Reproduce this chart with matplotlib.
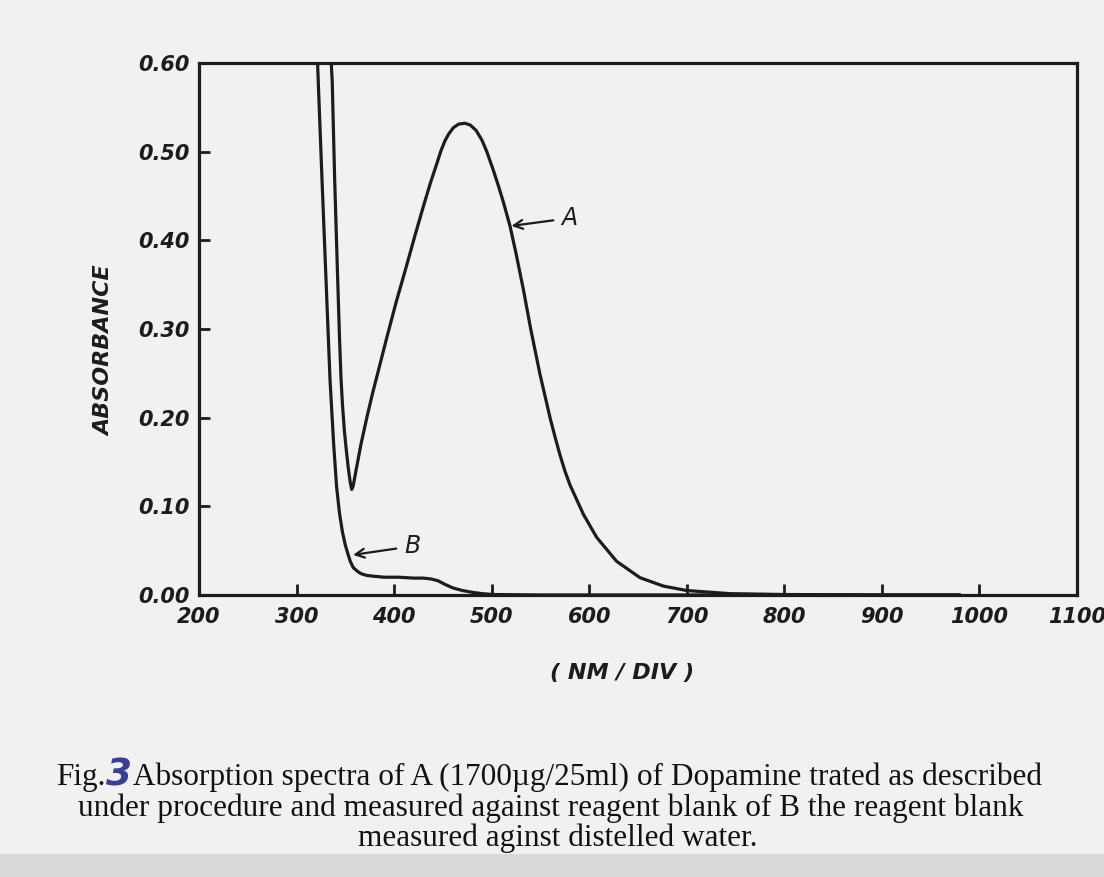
import matplotlib
matplotlib.use("Agg")
import matplotlib.pyplot as plt
from matplotlib.patches import Rectangle

# curve A : dopamine vs reagent blank
wl_a = [335.5, 336.5, 339, 342, 344, 345.5, 347, 349, 351, 353, 355, 356.5, 358,
        361.7, 366, 372, 378, 385, 392.4, 402, 412.9, 421, 429.9, 437, 443.6,
        448, 452, 456, 460.7, 466, 472.6, 478, 484, 490, 495, 501.7, 507, 512,
        518.8, 525, 532.4, 540, 549.5, 559.8, 565, 570, 575, 580.3, 594, 607.6,
        628, 652, 676, 700, 744, 800, 900, 980]
abs_a = [0.600, 0.580, 0.470, 0.360, 0.290, 0.245, 0.215, 0.185, 0.163, 0.143,
         0.127, 0.119, 0.123, 0.145, 0.170, 0.200, 0.228, 0.258, 0.290, 0.330,
         0.372, 0.404, 0.438, 0.464, 0.486, 0.501, 0.512, 0.520, 0.527, 0.531,
         0.532, 0.530, 0.524, 0.513, 0.500, 0.479, 0.461, 0.443, 0.416, 0.385,
         0.345, 0.300, 0.249, 0.200, 0.178, 0.158, 0.140, 0.124, 0.091, 0.065,
         0.038, 0.0195, 0.010, 0.005, 0.0015, 0.0005, 0.0, 0.0]

# curve B : reagent blank vs distilled water
wl_b = [321.5, 323, 326, 330, 334.3, 338, 341, 344, 347, 350, 352.7, 355,
        358, 362, 366, 372, 380, 390, 405, 420, 430, 438, 445, 452, 460, 470,
        480, 490, 501, 550, 700, 900, 980]
abs_b = [0.600, 0.556, 0.470, 0.360, 0.242, 0.170, 0.122, 0.092, 0.071, 0.056,
         0.046, 0.038, 0.031, 0.027, 0.024, 0.022, 0.021, 0.020, 0.020, 0.019,
         0.019, 0.018, 0.016, 0.012, 0.008, 0.005, 0.003, 0.0015, 0.0005, 0.0,
         0.0, 0.0, 0.0]

x_ticks = [200, 300, 400, 500, 600, 700, 800, 900, 1000, 1100]
y_ticks = [0.0, 0.1, 0.2, 0.3, 0.4, 0.5, 0.6]

caption_1 = "Absorption spectra of A (1700\u00b5g/25ml) of Dopamine trated as described"
caption_2 = "under procedure and measured against reagent blank of B the reagent blank"
caption_3 = "measured aginst distelled water."

ink = "#1c1c1c"
paper = "#f1f1f1"

fig = plt.figure(figsize=(11.04, 8.77), dpi=100, facecolor=paper)
ax = fig.add_axes([0.1803, 0.3216, 0.7952, 0.6066])
ax.set_facecolor(paper)

ax.plot(wl_a, abs_a, color=ink, lw=2.3, solid_capstyle="round", solid_joinstyle="round")
ax.plot(wl_b, abs_b, color=ink, lw=2.3, solid_capstyle="round", solid_joinstyle="round")

ax.set_xlim(200, 1100)
ax.set_ylim(0, 0.6)
ax.set_xticks(x_ticks)
ax.set_yticks(y_ticks)
ax.set_yticklabels(["%.2f" % v for v in y_ticks])

tick_font = dict(fontsize=15, fontstyle="italic", fontweight="bold", color=ink)
for lab in ax.get_xticklabels() + ax.get_yticklabels():
    lab.set(**tick_font)
ax.tick_params(direction="in", length=8, width=2, color=ink)
ax.tick_params(axis="x", pad=9)
ax.tick_params(axis="y", pad=7)
for s in ax.spines.values():
    s.set_linewidth(2.3)
    s.set_color(ink)

ax.set_xlabel("( NM / DIV )", fontsize=16, fontstyle="italic", fontweight="bold", color=ink)
ax.xaxis.set_label_coords(0.482, -0.128)
ax.set_ylabel("ABSORBANCE", fontsize=16, fontstyle="italic", fontweight="bold", color=ink)
ax.yaxis.set_label_coords(-0.096, 0.46)

# curve labels with arrows
arrow = dict(arrowstyle="->", lw=1.6, color=ink, shrinkA=4, shrinkB=1, mutation_scale=16)
ax.annotate("A", xy=(518.8, 0.416), xytext=(580, 0.425), fontsize=17,
            fontstyle="italic", color=ink, va="center", ha="center", arrowprops=arrow)
ax.annotate("B", xy=(356.5, 0.045), xytext=(419, 0.055), fontsize=17,
            fontstyle="italic", color=ink, va="center", ha="center", arrowprops=arrow)

# caption, with the hand-written blue figure number
cap_font = dict(fontsize=22.5, family="Liberation Serif", color="#111111", va="center")
fig.canvas.draw()
r = fig.canvas.get_renderer()
t_fig = fig.text(0, 0.114, "Fig.", **cap_font)
t_num = fig.text(0, 0.116, "3", fontsize=27, family="DejaVu Sans", fontweight="bold",
                 fontstyle="italic", color="#3a3f95", va="center")
t_rest = fig.text(0, 0.114, caption_1, **cap_font)
w_fig = t_fig.get_window_extent(r).width
w_num = t_num.get_window_extent(r).width
w_rest = t_rest.get_window_extent(r).width
x0 = 548 - (w_fig + w_num + w_rest) / 2
t_fig.set_x(x0 / 1104)
t_num.set_x((x0 + w_fig + 1) / 1104)
t_rest.set_x((x0 + w_fig + w_num + 2) / 1104)
fig.text(0.499, 0.0787, caption_2, ha="center", **cap_font)
fig.text(0.505, 0.0445, caption_3, ha="center", **cap_font)

# bottom edge of the scanned page
fig.patches.append(Rectangle((0, 0), 1, 0.026, transform=fig.transFigure,
                             facecolor="#d9d9d9", edgecolor="none", zorder=0))

fig.savefig("out.png", dpi=100, facecolor=paper)
